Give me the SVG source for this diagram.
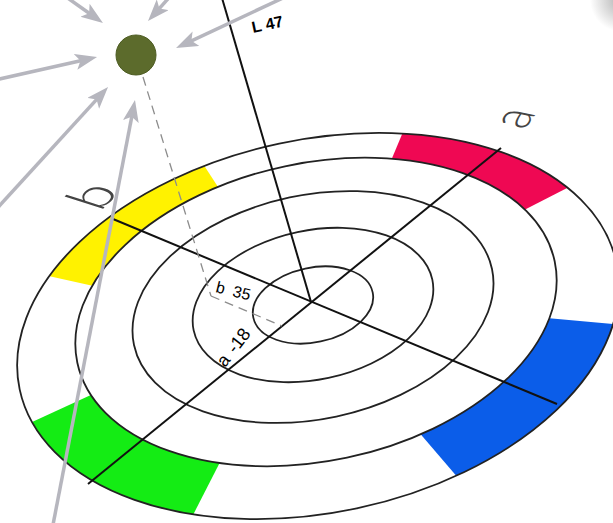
<svg xmlns="http://www.w3.org/2000/svg" width="613" height="523" viewBox="0 0 613 523">
<defs>
<style>
.ring{fill:none;stroke:#222;stroke-width:1.8}
.axis{fill:none;stroke:#111;stroke-width:2}
.dash{fill:none;stroke:#8c8c8c;stroke-width:1.3;stroke-dasharray:9 6}
.arrow{fill:none;stroke:#b6b6be;stroke-width:3.5;marker-end:url(#ah)}
.lbl{font-family:"Liberation Sans",Arial,sans-serif;fill:#000}
.plane{font-family:Lato,"DejaVu Sans",sans-serif;font-weight:300;fill:#444}
</style>
<marker id="ah" markerUnits="userSpaceOnUse" markerWidth="24" markerHeight="18" refX="12" refY="8" orient="auto"><path d="M0,0 L22,8 L0,16 L5,8 Z" fill="#b6b6be"/></marker>
<radialGradient id="shade" cx="0.5" cy="0.5" r="0.5"><stop offset="0" stop-color="#9a9a9a" stop-opacity="0.8"/><stop offset="1" stop-color="#9a9a9a" stop-opacity="0"/></radialGradient>
<clipPath id="cY"><polygon points="143,297 8,267 63,186 194,150 233,210"/></clipPath>
<clipPath id="cP"><polygon points="377,194 416,101 531,102 616,163 487,229"/></clipPath>
<clipPath id="cB"><polygon points="490,313 679,330 617,430 483,507 393,402"/></clipPath>
<clipPath id="cG"><polygon points="130,377 -20,446 46,520 171,558 237,429"/></clipPath>
<ellipse id="outer" cx="318" cy="326" rx="305" ry="186.5" transform="rotate(-12 318 326)"/>
</defs>
<rect width="613" height="523" fill="#fff"/>
<circle cx="622" cy="0" r="32" fill="url(#shade)"/>
<g id="bands">
<use href="#outer" clip-path="url(#cY)" fill="#fff200"/>
<use href="#outer" clip-path="url(#cP)" fill="#ef0853"/>
<use href="#outer" clip-path="url(#cB)" fill="#0b5de9"/>
<use href="#outer" clip-path="url(#cG)" fill="#14ec14"/>
<ellipse cx="316" cy="312" rx="244" ry="149" transform="rotate(-12 316 312)" fill="#fff"/>
</g>
<g id="rings">
<ellipse class="ring" cx="313" cy="305" rx="61" ry="37.3" transform="rotate(-12 313 305)"/>
<ellipse class="ring" cx="313" cy="305" rx="122" ry="74.6" transform="rotate(-12 313 305)"/>
<ellipse class="ring" cx="313" cy="307" rx="183" ry="112" transform="rotate(-12 313 307)"/>
<ellipse class="ring" cx="316" cy="312" rx="244" ry="149" transform="rotate(-12 316 312)"/>
<ellipse class="ring" cx="318" cy="326" rx="305" ry="186.5" transform="rotate(-12 318 326)"/>
</g>
<g id="axes">
<line class="axis" x1="222" y1="-2" x2="311" y2="302"/>
<line class="axis" x1="88" y1="484" x2="501" y2="148"/>
<line class="axis" x1="113" y1="219" x2="557" y2="404"/>
</g>
<g id="projection">
<line class="dash" x1="143" y1="77" x2="211" y2="296"/>
<line class="dash" x1="211" y1="296" x2="282" y2="326"/>
</g>
<g id="labels">
<text class="lbl" x="253" y="33" font-size="16" font-weight="bold" transform="rotate(-12 253 33)">L 47</text>
<text class="lbl" x="215" y="292" font-size="16" word-spacing="4" transform="rotate(14 215 292)">b 35</text>
<text class="lbl" x="225" y="368" font-size="18" word-spacing="2" transform="rotate(-52 225 368)">a -18</text>
<g transform="translate(100 212) rotate(-12) scale(1 0.611) rotate(-47)"><text class="plane" x="0" y="0" font-size="66">b</text></g>
<g transform="translate(524 130) rotate(-12) scale(1 0.611) rotate(-55)"><text class="plane" x="0" y="0" font-size="60">a</text></g>
</g>
<g id="connectors">
<line class="arrow" x1="62" y1="-6" x2="94.8" y2="17.2"/>
<line class="arrow" x1="175" y1="-9" x2="154.7" y2="13.6"/>
<line class="arrow" x1="300" y1="-10" x2="185.1" y2="43.8"/>
<line class="arrow" x1="-5" y1="80" x2="87.3" y2="59.2"/>
<line class="arrow" x1="-10" y1="216" x2="101.3" y2="94.4"/>
<line class="arrow" x1="52" y1="530" x2="133.1" y2="109.8"/>
</g>
<g id="point">
<circle cx="136" cy="55" r="20" fill="#5c6b2c" stroke="#4d5c22" stroke-width="1"/>
</g>
</svg>
